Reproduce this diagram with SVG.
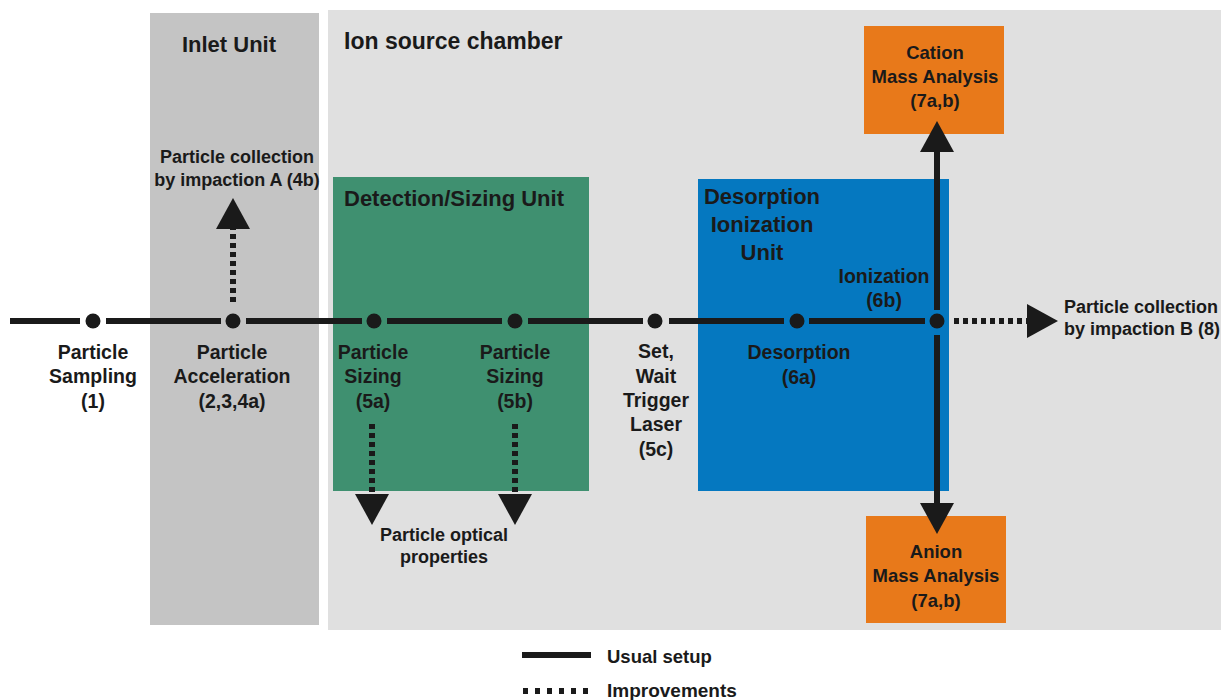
<svg xmlns="http://www.w3.org/2000/svg" width="1221" height="700" viewBox="0 0 1221 700">
<defs>
<style>
text{font-family:"Liberation Sans",Arial,sans-serif;font-weight:bold;fill:#1a1a1a}
.h{font-size:22px}
.n{font-size:19.5px;text-anchor:middle}
.c{font-size:18px}
.m{font-size:18.5px;text-anchor:middle}
.solid{stroke:#1a1a1a;stroke-width:6;fill:none}
.dot{stroke:#1a1a1a;stroke-width:6;fill:none;stroke-dasharray:5 4}
.node{fill:#1a1a1a}
</style>
<marker id="ah" markerUnits="userSpaceOnUse" markerWidth="31" markerHeight="34" refX="0" refY="17" orient="auto" viewBox="0 0 31 34">
<path d="M0,0 L31,17 L0,34 Z" fill="#1a1a1a"/>
</marker>
</defs>
<rect width="1221" height="700" fill="#ffffff"/>
<g id="ion-source-chamber">
<rect x="328" y="10" width="893" height="620" fill="#e0e0e0"/>
<text class="h" x="344" y="49" style="font-size:23px">Ion source chamber</text>
</g>
<g id="inlet-unit">
<rect x="150" y="13" width="169" height="612" fill="#c4c4c4"/>
<text class="h" x="229" y="52" text-anchor="middle">Inlet Unit</text>
</g>
<g id="detection-sizing-unit">
<rect x="333" y="177" width="256" height="314" fill="#3f9070"/>
<text class="h" x="344" y="206">Detection/Sizing Unit</text>
</g>
<g id="desorption-ionization-unit">
<rect x="698" y="179" width="251" height="312" fill="#0578c0"/>
<text class="h" x="762" y="204" text-anchor="middle">Desorption</text>
<text class="h" x="762" y="232" text-anchor="middle">Ionization</text>
<text class="h" x="762" y="260" text-anchor="middle">Unit</text>
</g>
<g id="cation-mass-analysis">
<rect x="864" y="26" width="140" height="108" fill="#e8791a"/>
<text class="m" x="935" y="59">Cation</text>
<text class="m" x="935" y="83">Mass Analysis</text>
<text class="m" x="935" y="107">(7a,b)</text>
</g>
<g id="anion-mass-analysis">
<rect x="866" y="516" width="140" height="107" fill="#e8791a"/>
<text class="m" x="936" y="558">Anion</text>
<text class="m" x="936" y="582">Mass Analysis</text>
<text class="m" x="936" y="607">(7a,b)</text>
</g>
<g id="connectors">
<path class="solid" d="M10,321 H80 M106,321 H221 M246,321 H362 M387,321 H502 M528,321 H643 M669,321 H784 M809,321 H925"/>
<path class="solid" d="M937,310 V152" marker-end="url(#ah)"/>
<path class="solid" d="M937,335 V503" marker-end="url(#ah)"/>
<path class="dot" d="M954,321 H1027" marker-end="url(#ah)"/>
<path class="dot" d="M233,302 V229" marker-end="url(#ah)"/>
<path class="dot" d="M372,424 V494" marker-end="url(#ah)"/>
<path class="dot" d="M515,424 V494" marker-end="url(#ah)"/>
</g>
<g id="node-sampling">
<circle class="node" cx="93" cy="321" r="7.5"/>
<text class="n" x="93" y="359">Particle</text>
<text class="n" x="93" y="383">Sampling</text>
<text class="n" x="93" y="408">(1)</text>
</g>
<g id="node-acceleration">
<circle class="node" cx="233" cy="321" r="7.5"/>
<text class="n" x="232" y="359">Particle</text>
<text class="n" x="232" y="383">Acceleration</text>
<text class="n" x="232" y="408">(2,3,4a)</text>
</g>
<g id="node-sizing-5a">
<circle class="node" cx="374" cy="321" r="7.5"/>
<text class="n" x="373" y="359">Particle</text>
<text class="n" x="373" y="383">Sizing</text>
<text class="n" x="373" y="408">(5a)</text>
</g>
<g id="node-sizing-5b">
<circle class="node" cx="515" cy="321" r="7.5"/>
<text class="n" x="515" y="359">Particle</text>
<text class="n" x="515" y="383">Sizing</text>
<text class="n" x="515" y="408">(5b)</text>
</g>
<g id="node-trigger">
<circle class="node" cx="655" cy="321" r="7.5"/>
<text class="n" x="656" y="358">Set,</text>
<text class="n" x="656" y="383">Wait</text>
<text class="n" x="656" y="407">Trigger</text>
<text class="n" x="656" y="431">Laser</text>
<text class="n" x="656" y="456">(5c)</text>
</g>
<g id="node-desorption">
<circle class="node" cx="797" cy="321" r="7.5"/>
<text class="n" x="799" y="359">Desorption</text>
<text class="n" x="799" y="384">(6a)</text>
</g>
<g id="node-ionization">
<circle class="node" cx="937" cy="321" r="7.5"/>
<text class="n" x="884" y="283">Ionization</text>
<text class="n" x="884" y="307">(6b)</text>
</g>
<g id="collection-a">
<text class="c" x="237" y="163" text-anchor="middle">Particle collection</text>
<text class="c" x="237" y="186" text-anchor="middle">by impaction A (4b)</text>
</g>
<g id="collection-b">
<text class="c" x="1064" y="313">Particle collection</text>
<text class="c" x="1064" y="335">by impaction B (8)</text>
</g>
<g id="optical-properties">
<text class="c" x="444" y="541" text-anchor="middle">Particle optical</text>
<text class="c" x="444" y="563" text-anchor="middle">properties</text>
</g>
<g id="legend">
<path class="solid" d="M522,655 H591"/>
<text class="c" x="607" y="663" style="font-size:18.5px">Usual setup</text>
<path class="dot" d="M523,691 H592" style="stroke-dasharray:5 7"/>
<text class="c" x="607" y="697" style="font-size:19px">Improvements</text>
</g>
</svg>
